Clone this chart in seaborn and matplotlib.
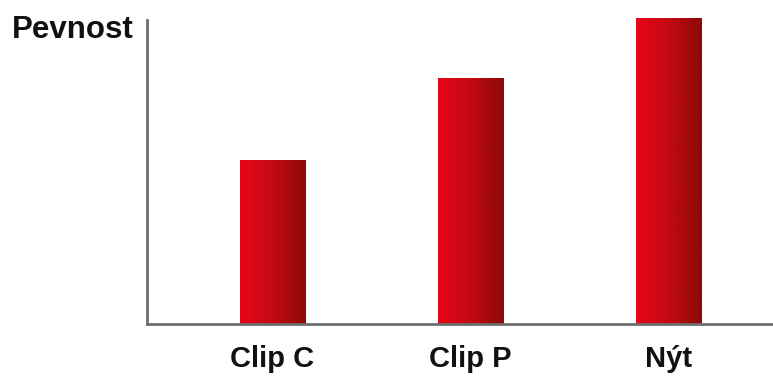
import numpy as np
import pandas as pd
import matplotlib
matplotlib.use("Agg")
import matplotlib.pyplot as plt
import seaborn as sns
from matplotlib.colors import LinearSegmentedColormap

categories = ["Clip C", "Clip P", "Nýt"]
values = [164, 246, 306]
y_label = "Pevnost"

sns.set_theme(style="white")
plt.rcParams["font.family"] = ["Liberation Sans", "DejaVu Sans"]

W, H = 773, 376
fig = plt.figure(figsize=(W / 100, H / 100), dpi=100)
ax = fig.add_axes([147 / W, 1 - 324 / H, 1 - 147 / W, (324 - 18) / H])

df = pd.DataFrame({"cat": categories, "val": values})
sns.barplot(data=df, x="cat", y="val", color="#d00a14", width=0.33, ax=ax,
            saturation=1)

cmap = LinearSegmentedColormap.from_list("red", ["#e8061a", "#c20a12", "#8a0a08"])
grad = np.linspace(0, 1, 256).reshape(1, -1)
for p in ax.patches:
    x0, y0 = p.get_x(), p.get_y()
    w, h = p.get_width(), p.get_height()
    im = ax.imshow(grad, cmap=cmap, extent=[x0, x0 + w, y0, y0 + h],
                   aspect="auto", zorder=p.get_zorder() + 0.1, interpolation="bilinear")
    im.set_clip_path(p)

ax.set_xlim(-0.633, 2.525)
ax.set_ylim(0, 306)
ax.set_xlabel("")
ax.set_ylabel("")
ax.set_yticks([])
ax.tick_params(axis="x", length=0, pad=15)
for lbl in ax.get_xticklabels():
    lbl.set_fontsize(21)
    lbl.set_fontweight("bold")
    lbl.set_color("#111111")

for s in ["top", "right"]:
    ax.spines[s].set_visible(False)
for s in ["left", "bottom"]:
    ax.spines[s].set_color("#6e6e6e")
    ax.spines[s].set_linewidth(2)
ax.spines["left"].set_bounds(0, 304)

fig.text(12 / W, 1 - 38 / H, y_label, fontsize=22.5, fontweight="bold",
         color="#111111", ha="left", va="baseline")

fig.savefig("out.png", dpi=100)
